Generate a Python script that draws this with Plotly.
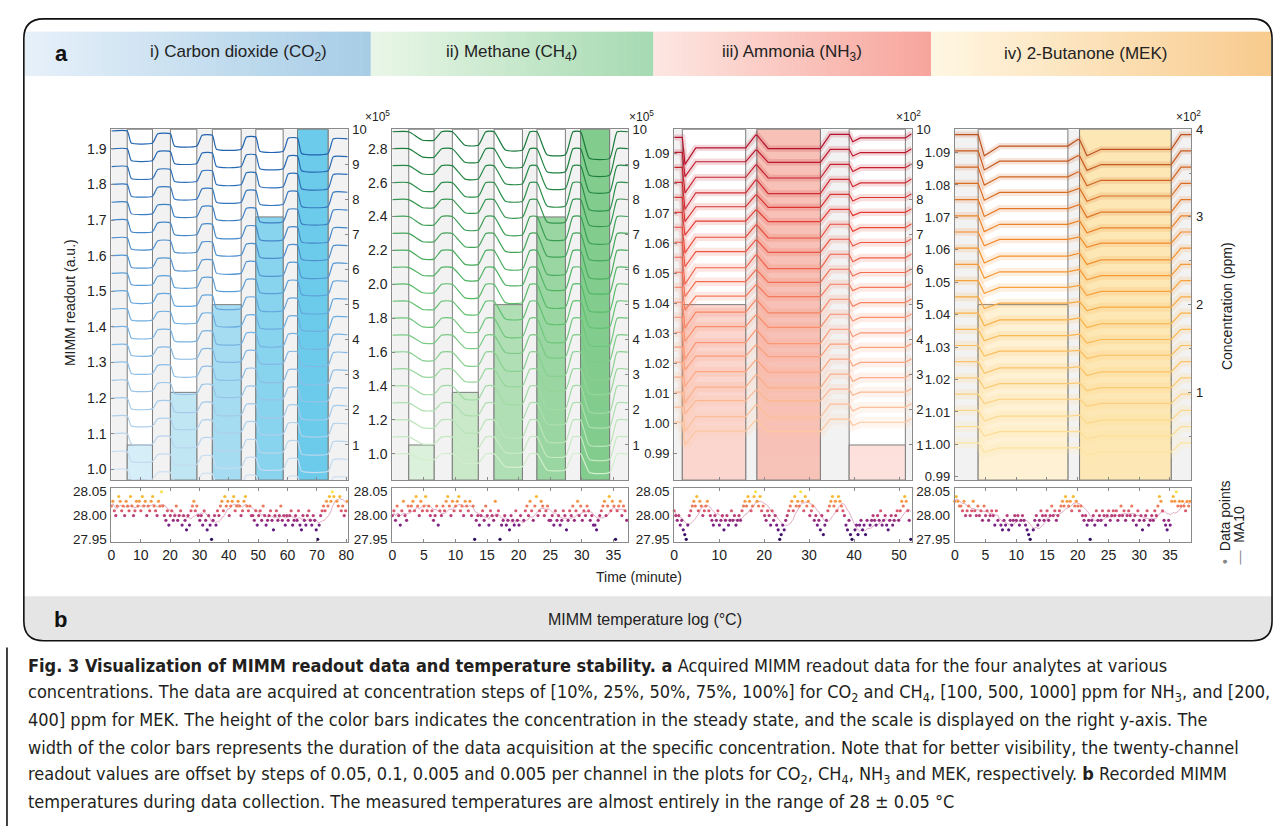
import numpy as np
import pandas as pd
import plotly.graph_objects as go
from plotly.colors import sample_colorscale

W, H = 1284, 831
FONT = "Liberation Sans, Arial, Helvetica, sans-serif"

# ---------------- data: (i) CO2 ----------------
co2_start = [5.4, 20.1, 34.4, 49.2, 63.4]
co2_end = [14.0, 29.1, 44.2, 58.5, 73.8]
co2_conc = [1.0, 2.5, 5.0, 7.5, 10.0]            # x10^5 ppm
co2_base = [1.00, 1.05, 1.10, 1.15, 1.20, 1.25, 1.30, 1.35, 1.40, 1.45,
            1.50, 1.55, 1.60, 1.65, 1.70, 1.75, 1.80, 1.85, 1.90, 1.95]
co2_purge = [0.0, -0.008, -0.012, -0.017, -0.020, -0.022]
co2_drop = [0.034, 0.034, 0.039, 0.040, 0.043]
co2_gain = [0.80, 0.82, 0.85, 0.83, 0.88, 0.86, 0.90, 0.88, 0.92, 0.90,
            0.93, 0.91, 0.95, 0.93, 0.96, 0.94, 0.97, 0.98, 0.97, 1.00]

# ---------------- data: (ii) CH4 ----------------
ch4_start = [2.6, 9.5, 16.1, 22.9, 29.8]
ch4_end = [6.6, 13.6, 20.6, 27.4, 34.4]
ch4_conc = [1.0, 2.5, 5.0, 7.5, 10.0]            # x10^5 ppm
ch4_base = [1.0, 1.1, 1.2, 1.3, 1.4, 1.5, 1.6, 1.7, 1.8, 1.9,
            2.0, 2.1, 2.2, 2.3, 2.4, 2.5, 2.6, 2.7, 2.8, 2.9]
ch4_purge = [0.0, 0.0, 0.0, 0.0, 0.0, 0.0]
ch4_drop = [0.05, 0.08, 0.108, 0.136, 0.157]
ch4_gain = [0.70, 0.85, 0.95, 0.90, 0.98, 0.92, 1.00, 0.95, 1.02, 0.97,
            1.00, 0.96, 1.03, 0.98, 1.00, 0.97, 1.02, 0.99, 1.00, 1.00]

# ---------------- data: (iii) NH3 ----------------
nh3_start = [1.8, 18.4, 38.9]
nh3_end = [15.9, 32.5, 51.4]
nh3_conc = [5.0, 10.0, 1.0]                      # x10^2 ppm
nh3_base = [1.0005, 1.0055, 1.0105, 1.0155, 1.0205, 1.0255, 1.0305, 1.0355, 1.0405, 1.0455,
            1.0505, 1.0555, 1.0605, 1.0655, 1.0705, 1.0755, 1.0805, 1.0855, 1.0905, 1.0955]
nh3_purge = [0.0, 0.0007, 0.0010, 0.0012]
nh3_dip = [0.009, 0.0045, 0.0025]
nh3_dip_t = [0.6, 2.5, 0.8]
nh3_drop = [0.0035, 0.0045, 0.0012]
nh3_settle_t = [3.0, 3.5, 2.5]
nh3_gain = [0.85, 0.90, 0.80, 0.95, 0.90, 0.85, 1.00, 0.90, 0.95, 0.85,
            0.90, 1.00, 0.90, 0.95, 0.85, 0.90, 1.00, 0.95, 0.90, 1.00]

# ---------------- data: (iv) MEK ----------------
mek_start = [3.8, 20.3]
mek_end = [18.4, 35.2]
mek_conc = [2.0, 4.0]                            # x10^2 ppm
mek_base = [1.0005, 1.0055, 1.0105, 1.0155, 1.0205, 1.0255, 1.0305, 1.0355, 1.0405, 1.0455,
            1.0505, 1.0555, 1.0605, 1.0655, 1.0705, 1.0755, 1.0805, 1.0855, 1.0905, 1.0955]
mek_purge = [0.0, -0.0015, 0.0]
mek_dip = [0.0065, 0.005]
mek_dip_t = [1.0, 1.2]
mek_drop = [0.0035, 0.003]
mek_settle_t = [3.5, 3.5]
mek_gain = [0.45, 0.45, 0.50, 0.45, 0.50, 0.55, 0.50, 0.55, 0.60, 0.55,
            0.60, 0.65, 0.70, 0.65, 0.75, 0.80, 0.80, 0.85, 0.90, 1.00]

# ---------------- temperature logs (hundredths of a degree above 28.00 °C) ----------------
temp_co2 = [2, 3, 1, 0, 2, 4, 3, 1, 2, 0, 3, 2, 1, 4, 2, 0, 1, 3,
            2, 3, 1, 4, 2, 3, 0, 2, 1, 3, 4, 2, 1, 0, 3, 2, 5, 2,
            0, -1, 1, -2, 0, 1, -1, 0, 2, -1, 0, 1, -2, 0, -1, -3, 0, -2,
            1, 2, 3, 1, 2, 0,
            -1, 0, -2, 1, -1, -3, 0, -2, -5, -1, 0, -2, 1, 0,
            2, 3, 1, 4, 2, 3, 0, 2, 3, 4, 1, 2, 3, 2, 0, 1, 3, 4, 2, 1, 2, 0,
            0, -1, 1, -2, 0, 1, -1, 2, 0, -2, -1, 0, 1, -1, -3, 0, 1, -1, 0, 2, -1, 0, -2, 0,
            -1, 0, 1, -2, -1, 0, -1, 1, -2, -3, 0, -1, -2, 0, 1, -1, -2, 0, -1, -3, -5, -2,
            0, 1, 2, 1, 3, 2, 4, 3, 5, 4, 6, 3, 2, 4, 1, 2, 0, 1, 3]
temp_ch4 = [0, 1, -1, 2, 0, -2, 1, 3, 0, -1, 2, 1,
            2, 3, 1, 4, 2, 0, 3, 1, 2, 4, 1, 2,
            0, 1, -1, 0, 2, -2, 1, 0,
            2, 1, 3, 4, 2, 0, 3, 1, 2, 3, 4, 1, 2, 0, 3, 2, 1, 3, 0, 2,
            -5, -1, 0, -2,
            0, 1, -1, 2, 0, -2, 1, 0, -1, 3, 0, 1,
            -5, -2, -1, 0, -2, -1, -3, 0, -1, -2, 1, -1, -2, 0, -6, -1,
            1, 2, 0, 3, 1, -1, 2, 4, 0, 1, 3, 2, 0, 1, 2, -1,
            -1, 0, -2, 1, -1, 0, -2, -1, 1, 0, -3, -1,
            1, 0, 2, -1, 1, 3, 0, 2, -1, 1, 0, 2, 1, -1, 0, -2,
            -2, -3, -1, 0,
            1, 2, 3, 0, 2, 4, 1, 3, 2, -5, 1, 2, 3, 0, 2, 1, -1]
temp_nh3 = [1, 0, -1, 0, -2, -1, -3, -4, -5,
            -2, 0, 1, 2, 3, 2, 4, 1, 3, 2, 0, 1, 2, 3, 1,
            0, -1, -2, 0, -1, 1, -2, -1, 0, -3, -1, 0, -2, -1, 1, -1, 0, -2, -1, 0, -1,
            1, 2, 3, 2, 4, 3, 1, 2, 4, 5, 3, 2, 4, 1, 2,
            0, -1, 1, 0, -2, 1, -1, 0, -2,
            -3, -5, -4, -2, -3, -1,
            0, 1, 2, 3, 1, 4, 2, 3, 2, 5, 3, 1, 4, 2, 3, 0, 1, 2,
            -1, 0, -2, -1, -3, 0, -4, -2, -1,
            1, 2, 3, 4, 2, 3, 1, 4, 3, 2, 1, 0,
            -2, -3, -1, -4, -5, -6, -3, -2, -4,
            -2, -1, -3, -2, -4, -1, -6, -2, -1,
            0, -1, -2, 0, -1, 1, -2, -1, 0, -2, -3, -1, 0, -2, -1, 0, 1, -1,
            1, 3, 2, 4, 3, 1, -1, -5]
temp_mek = [3, 4, 3, 2,
            2, 1, 3, 0, 1, 2, 0, 1, 3, 1, 0, 2,
            0, 1, -1, 2, 0, 1, -1, 0, 1, 0, -2, 1,
            -1, -6, -2, -3, -1, -2, 0, -3, -1, -2, -1, 0,
            -1, 0, -2, -1, 0, -1, -2, -3,
            -4, -5, -6, -3,
            -1, 0, -2, -1, 1, 0, -1, 0, 1, -1, 0, 2, 0, 1, -1, 0,
            1, 2, 3, 2, 4, 3, 2, 3, 1, 4, 2, 3, 2, 1, 2, 0,
            -1, 0, -2, -1,
            -5, -1, 0, -2, 1, -1, 0, -1, 1, 0, -2, 0, 1, -1, 0, 1,
            0, 1, -1, 0, 2, 0, 1, -1, 0, 1, 0, 2,
            -1, 0, -2, 1, -1, 0, -3, -1, 0, 1, -2, -1, 0, -1, 1, 0,
            2, 4, 3, 1,
            -1, -2, -3, -1, -2,
            3, 4, 3, 5, 2, 3, 2, 3, 2, 1, 3, 2, 3]

# ---------------- layout geometry (pixels) ----------------
def px(x):
    return x / W


def py(y):
    return 1 - y / H


panels = [
    dict(name="co2", x=(108.3, 346.7), xr=[0, 80.5], yr=[0.97, 1.955], yt=[round(1.0 + 0.1 * i, 1) for i in range(10)],
         yfmt=".1f", cr=[0, 10], ct=list(range(1, 11)), dt=10, expo="×10<sup>5</sup>", expx=362,
         start=co2_start, end=co2_end, conc=co2_conc, base=co2_base, purge=co2_purge, drop=co2_drop,
         gain=co2_gain, dip=None, dip_t=None, settle=[1.4] * 5, up=1.8, temp=temp_co2,
         lines=[[0, '#cfe1f2'], [0.5, '#68aadf'], [1, '#1f62b0']],
         bars=['#d6eef8', '#c0e6f4', '#a5dcf1', '#88d3ee', '#6ccbea'], shape='spline', cloud=0, lfs=14),
    dict(name="ch4", x=(391.7, 629.3), xr=[0, 37.3], yr=[0.845, 2.915], yt=[round(1.0 + 0.2 * i, 1) for i in range(10)],
         yfmt=".1f", cr=[0, 10], ct=list(range(1, 11)), dt=5, expo="×10<sup>5</sup>", expx=643,
         start=ch4_start, end=ch4_end, conc=ch4_conc, base=ch4_base, purge=ch4_purge, drop=ch4_drop,
         gain=ch4_gain, dip=None, dip_t=None, settle=[2.2, 2.0, 1.8, 1.6, 1.4], up=1.2, temp=temp_ch4,
         lines=[[0, '#d3eecd'], [0.5, '#5cbf6c'], [1, '#17793a']],
         bars=['#dcf1dc', '#c9e9c9', '#b1dfb5', '#99d6a1', '#82cd8e'], shape='spline', cloud=0, lfs=14),
    dict(name="nh3", x=(676.0, 915.5), xr=[0, 52.8], yr=[0.9812, 1.0982], yt=[round(0.99 + 0.01 * i, 2) for i in range(11)],
         yfmt=".2f", cr=[0, 10], ct=list(range(1, 11)), dt=10, expo="×10<sup>2</sup>", expx=927,
         start=nh3_start, end=nh3_end, conc=nh3_conc, base=nh3_base, purge=nh3_purge, drop=nh3_drop,
         gain=nh3_gain, dip=nh3_dip, dip_t=nh3_dip_t, settle=nh3_settle_t, up=2.2, temp=temp_nh3,
         lines=[[0, '#fdc7a0'], [0.4, '#f98b69'], [0.7, '#e8463a'], [1, '#b5122b']],
         bars=['#fbd6cf', '#f7c2b7', '#fde1dc'], shape='linear', cloud=1, lfs=13),
    dict(name="mek", x=(959.0, 1197.7), xr=[0, 38.5], yr=[0.989, 1.0972], yt=[round(0.99 + 0.01 * i, 2) for i in range(11)],
         yfmt=".2f", cr=[0, 4], ct=[1, 2, 3, 4], dt=5, expo="×10<sup>2</sup>", expx=1209,
         start=mek_start, end=mek_end, conc=mek_conc, base=mek_base, purge=mek_purge, drop=mek_drop,
         gain=mek_gain, dip=mek_dip, dip_t=mek_dip_t, settle=mek_settle_t, up=1.6, temp=temp_mek,
         lines=[[0, '#fde3a0'], [0.4, '#fbb44b'], [0.7, '#f0892b'], [1, '#bf511c']],
         bars=['#fef1d4', '#fde8b5'], shape='linear', cloud=1, lfs=13),
]

MAIN_Y = (124, 480)
TEMP_Y = (488, 543)

temp_cs = [[0.0, '#2d0c5a'], [0.15, '#4b1478'], [0.3, '#7a2386'], [0.45, '#a8347f'], [0.55, '#cc4a72'],
           [0.65, '#e5696a'], [0.75, '#f2884e'], [0.85, '#f8a834'], [0.95, '#f9cd35'], [1.0, '#f6e64d']]


def channel_xy(base, gain, p):
    tmax = p["xr"][1]
    t = [0.0]
    y = [base + p["purge"][0]]
    for k in range(len(p["start"])):
        lvl = base + p["purge"][k]
        t.append(p["start"][k]); y.append(lvl)
        if p["dip"] is not None:
            t.append(p["start"][k] + p["dip_t"][k]); y.append(lvl - p["dip"][k] * gain)
        t.append(p["start"][k] + p["settle"][k]); y.append(lvl - p["drop"][k] * gain)
        t.append(p["end"][k]); y.append(lvl - p["drop"][k] * gain)
        t.append(min(p["end"][k] + p["up"], tmax)); y.append(base + p["purge"][k + 1])
    t.append(tmax); y.append(base + p["purge"][-1])
    return t, y


def aname(kind, n):
    return f"{kind}axis" if n == 1 else f"{kind}axis{n}"


def aref(kind, n):
    return kind if n == 1 else f"{kind}{n}"


fig = go.Figure()
layout = {}
shapes = []
annotations = []

AX_LINE = "#8a8a8a"


def tf(size):
    return dict(family=FONT, size=size, color="#222")


for i, p in enumerate(panels):
    xm, xt = 2 * i + 1, 2 * i + 2
    yc, yr_, yt = 3 * i + 1, 3 * i + 2, 3 * i + 3
    xdom = [px(p["x"][0]), px(p["x"][1])]
    ydom = [py(MAIN_Y[1]), py(MAIN_Y[0])]
    tdom = [py(TEMP_Y[1]), py(TEMP_Y[0])]

    layout[aname("x", xm)] = dict(domain=xdom, range=p["xr"], anchor=aref("y", yc), showticklabels=False,
                                  ticks="inside", ticklen=3, tickcolor=AX_LINE, dtick=p["dt"], tick0=0,
                                  showline=True, linecolor=AX_LINE, mirror=True, showgrid=False, zeroline=False)
    layout[aname("y", yc)] = dict(domain=ydom, range=p["cr"], anchor=aref("x", xm), side="right",
                                  tickvals=p["ct"], ticks="inside", ticklen=3, tickcolor=AX_LINE,
                                  tickfont=tf(13), showline=True, linecolor=AX_LINE, showgrid=False,
                                  zeroline=False, ticklabelstandoff=1)
    if p["name"] == "mek":
        layout[aname("y", yc)]["minor"] = dict(dtick=0.5, ticks="inside", ticklen=2, tickcolor=AX_LINE)
    layout[aname("y", yr_)] = dict(range=p["yr"], anchor=aref("x", xm), overlaying=aref("y", yc), side="left",
                                   tickvals=p["yt"], tickformat=p["yfmt"], ticks="inside", ticklen=3,
                                   tickcolor=AX_LINE, tickfont=tf(p["lfs"]), showline=True, linecolor=AX_LINE,
                                   showgrid=False, zeroline=False, ticklabelstandoff=1)
    layout[aname("x", xt)] = dict(domain=xdom, range=p["xr"], anchor=aref("y", yt), dtick=p["dt"], tick0=0,
                                  ticks="inside", ticklen=3, tickcolor=AX_LINE, tickfont=tf(14),
                                  showline=True, linecolor=AX_LINE, mirror="ticks", showgrid=False, zeroline=False)
    layout[aname("y", yt)] = dict(domain=tdom, range=[27.944, 28.058], anchor=aref("x", xt),
                                  tickvals=[27.95, 28.0, 28.05], tickformat=".2f", ticks="", tickfont=tf(13.5),
                                  showline=True, linecolor=AX_LINE, mirror=True, showgrid=False, zeroline=False,
                                  ticklabelstandoff=1)

    # background + exposure windows + concentration bars
    shapes.append(dict(type="rect", xref=f"{aref('x', xm)} domain", yref=f"{aref('y', yc)} domain",
                       x0=0, x1=1, y0=0, y1=1, fillcolor="#f2f2f2", line=dict(width=0), layer="below"))
    for k in range(len(p["start"])):
        shapes.append(dict(type="rect", xref=aref("x", xm), yref=f"{aref('y', yc)} domain",
                           x0=p["start"][k], x1=p["end"][k], y0=0, y1=1, fillcolor="white",
                           line=dict(width=1, color="#7d7d7d"), layer="below"))
        shapes.append(dict(type="rect", xref=aref("x", xm), yref=aref("y", yc),
                           x0=p["start"][k], x1=p["end"][k], y0=0, y1=p["conc"][k], fillcolor=p["bars"][k],
                           line=dict(width=1, color="#7d7d7d"), layer="below"))

    # readout channels
    cols = sample_colorscale(p["lines"], [j / 19 for j in range(20)])
    for j in range(20):
        t, y = channel_xy(p["base"][j], p["gain"][j], p)
        if p["cloud"]:
            fig.add_trace(go.Scatter(x=t, y=y, mode="lines", xaxis=aref("x", xm), yaxis=aref("y", yr_),
                                     line=dict(color=cols[j], width=11 - 0.25 * j), opacity=0.16,
                                     hoverinfo="skip", showlegend=False))
        fig.add_trace(go.Scatter(x=t, y=y, mode="lines", xaxis=aref("x", xm), yaxis=aref("y", yr_),
                                 line=dict(color=cols[j], width=1.2, shape=p["shape"], smoothing=0.5),
                                 hoverinfo="skip", showlegend=False))

    # temperature log
    temps = 28.0 + np.array(p["temp"]) / 100.0
    tt = np.linspace(0, p["xr"][1] - 0.2, len(temps))
    ma = pd.Series(temps).rolling(10, min_periods=1).mean()
    fig.add_trace(go.Scatter(x=tt, y=ma, mode="lines", xaxis=aref("x", xt), yaxis=aref("y", yt),
                             line=dict(color="rgba(205,120,160,0.6)", width=1), hoverinfo="skip", showlegend=False))
    fig.add_trace(go.Scatter(x=tt, y=temps, mode="markers", xaxis=aref("x", xt), yaxis=aref("y", yt),
                             marker=dict(size=3.2, color=temps, colorscale=temp_cs, cmin=27.95, cmax=28.05),
                             hoverinfo="skip", showlegend=False, cliponaxis=False))

    annotations.append(dict(text=p["expo"], x=px(p["expx"]), y=py(100), xref="paper", yref="paper",
                            showarrow=False, font=dict(family=FONT, size=12, color="#222")))

# ---------------- decorations ----------------
def hex2rgb(h):
    h = h.lstrip('#')
    return [int(h[k:k + 2], 16) for k in (0, 2, 4)]


bands = [(21, 370, '#e6f0f9', '#a7cde6'), (370, 655, '#e9f6e7', '#a6dab2'),
         (655, 935, '#fde6e1', '#f7a59c'), (935, 1278, '#fff6e1', '#f8cb8e')]
NS = 40
for x0, x1, c0, c1 in bands:
    a, b = hex2rgb(c0), hex2rgb(c1)
    for s in range(NS):
        f = s / (NS - 1)
        c = [round(a[m] + (b[m] - a[m]) * f) for m in range(3)]
        sx0 = x0 + (x1 - x0) * s / NS
        sx1 = x0 + (x1 - x0) * (s + 1) / NS + 0.6
        shapes.append(dict(type="rect", xref="paper", yref="paper", x0=px(sx0), x1=px(min(sx1, x1)),
                           y0=py(70), y1=py(25), fillcolor=f"rgb({c[0]},{c[1]},{c[2]})", line=dict(width=0)))

FX0, FY0, FX1, FY1, R = 20, 12, 1279, 643, 20


def P(x, y):
    return f"{px(x):.5f},{py(y):.5f}"


band_b = (f"M {P(FX0, 598)} L {P(FX1, 598)} L {P(FX1, FY1 - R)} Q {P(FX1, FY1)} {P(FX1 - R, FY1)} "
          f"L {P(FX0 + R, FY1)} Q {P(FX0, FY1)} {P(FX0, FY1 - R)} Z")
shapes.append(dict(type="path", xref="paper", yref="paper", path=band_b, fillcolor="#e5e5e5", line=dict(width=0)))
frame = (f"M {P(FX0, FY0 + R)} Q {P(FX0, FY0)} {P(FX0 + R, FY0)} L {P(FX1 - R, FY0)} Q {P(FX1, FY0)} {P(FX1, FY0 + R)} "
         f"L {P(FX1, FY1 - R)} Q {P(FX1, FY1)} {P(FX1 - R, FY1)} L {P(FX0 + R, FY1)} Q {P(FX0, FY1)} {P(FX0, FY1 - R)} Z")
shapes.append(dict(type="path", xref="paper", yref="paper", path=frame, line=dict(color="#111", width=1.6)))
shapes.append(dict(type="line", xref="paper", yref="paper", x0=px(3), x1=px(3), y0=py(650), y1=py(831),
                   line=dict(color="#111", width=1.6)))

def ann(text, x, y, size=13, xanchor="center", angle=0, color="#222", family=FONT, yanchor="middle"):
    annotations.append(dict(text=text, x=px(x), y=py(y), xref="paper", yref="paper", showarrow=False,
                            xanchor=xanchor, yanchor=yanchor, textangle=angle,
                            font=dict(family=family, size=size, color=color)))


ann("<b>a</b>", 58, 47, size=22, color="#111")
ann("i) Carbon dioxide (CO<sub>2</sub>)", 237, 47, size=17)
ann("ii) Methane (CH<sub>4</sub>)", 512, 47, size=17)
ann("iii) Ammonia (NH<sub>3</sub>)", 795, 47, size=17)
ann("iv) 2-Butanone (MEK)", 1091, 47, size=17)
ann("MIMM readout (a.u.)", 66, 300, size=14, angle=-90)
ann("Concentration (ppm)", 1233, 303, size=14, angle=-90)
ann("<span style='color:#888'>•</span>  Data points", 1232, 522, size=14, angle=-90)
ann("<span style='color:#888'>—</span>  MA10", 1246, 536, size=14, angle=-90)
ann("Time (minute)", 640, 578, size=14)
ann("<b>b</b>", 57, 621, size=22, color="#111")
ann("MIMM temperature log (°C)", 647, 621, size=16)

CAP = "Liberation Sans Narrow, DejaVu Sans Condensed, Liberation Sans, Arial, sans-serif"
caption = [
    "<b>Fig. 3 Visualization of MIMM readout data and temperature stability. a</b> Acquired MIMM readout data for the four analytes at various",
    "concentrations. The data are acquired at concentration steps of [10%, 25%, 50%, 75%, 100%] for CO<sub>2</sub> and CH<sub>4</sub>, [100, 500, 1000] ppm for NH<sub>3</sub>, and [200,",
    "400] ppm for MEK. The height of the color bars indicates the concentration in the steady state, and the scale is displayed on the right y-axis. The",
    "width of the color bars represents the duration of the data acquisition at the specific concentration. Note that for better visibility, the twenty-channel",
    "readout values are offset by steps of 0.05, 0.1, 0.005 and 0.005 per channel in the plots for CO<sub>2</sub>, CH<sub>4</sub>, NH<sub>3</sub> and MEK, respectively. <b>b</b> Recorded MIMM",
    "temperatures during data collection. The measured temperatures are almost entirely in the range of 28 ± 0.05 °C",
]
cap_y = [668, 696, 723, 751, 779, 806]
for line, yy in zip(caption, cap_y):
    ann(line, 22, yy, size=18, xanchor="left", color="#231f20", family=CAP)

fig.update_layout(width=W, height=H, margin=dict(l=0, r=0, t=0, b=0), paper_bgcolor="white",
                  plot_bgcolor="white", showlegend=False, shapes=shapes, annotations=annotations,
                  font=dict(family=FONT), **layout)

fig.write_html("out.html")
